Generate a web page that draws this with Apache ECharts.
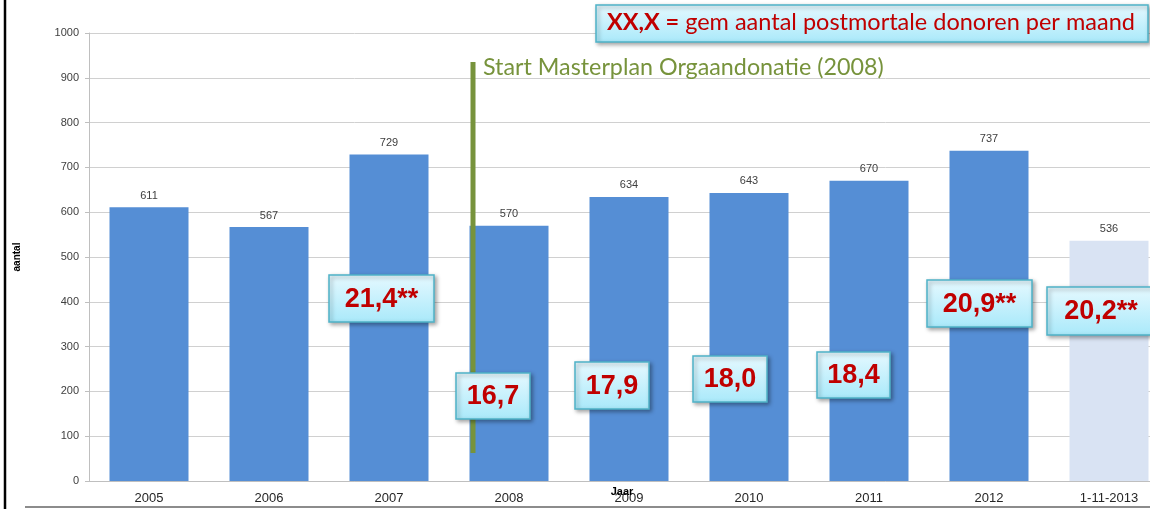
<!DOCTYPE html>
<html>
<head>
<meta charset="utf-8">
<script src="https://cdn.jsdelivr.net/npm/echarts@6/dist/echarts.min.js"></script>
<style>
  html, body { margin: 0; padding: 0; background: #fff; }
  #chart { width: 1150px; height: 509px; }
</style>
</head>
<body>
<div id="chart"></div>
<script>
  // jaren en aantallen
  var categories = ['2005', '2006', '2007', '2008', '2009', '2010', '2011', '2012', '1-11-2013'];
  var donors = [611, 567, 729, 570, 634, 643, 670, 737, 536];
  var yTicks = [0, 100, 200, 300, 400, 500, 600, 700, 800, 900, 1000];
  // gem aantal postmortale donoren per maand (leeg = geen kader)
  var monthAvg = ['', '', '21,4**', '16,7', '17,9', '18,0', '18,4', '20,9**', '20,2**'];

  var boxFill = new echarts.graphic.LinearGradient(0, 0, 0, 1, [
    {offset: 0, color: '#e6f9ff'},
    {offset: 1, color: '#a9e9fa'}
  ]);
  var boxStyle = {
    fill: boxFill, stroke: '#4fb3c8', lineWidth: 1.5,
    shadowBlur: 4, shadowOffsetX: 2, shadowOffsetY: 2, shadowColor: 'rgba(0,0,0,0.35)'
  };

  // kaders bij de balken: [x, y, breedte, hoogte]
  var boxPos = {
    2: [329, 275, 105, 47],
    3: [456, 373, 74, 46],
    4: [575, 362, 74, 47],
    5: [693, 356, 74, 46],
    6: [817, 352, 73, 46],
    7: [927, 280, 105, 47],
    8: [1047, 287, 108, 48]
  };

  var graphics = [];
  // linker rand en onderrand
  graphics.push({type: 'line', shape: {x1: 5, y1: 0, x2: 5, y2: 509}, style: {stroke: '#000', lineWidth: 2.5}, z: 10});
  graphics.push({type: 'line', shape: {x1: 25, y1: 507, x2: 1150, y2: 507}, style: {stroke: '#666', lineWidth: 1.5}, z: 10});
  // start masterplan
  graphics.push({type: 'line', shape: {x1: 473, y1: 62, x2: 473, y2: 453}, style: {stroke: '#77933c', lineWidth: 5}, z: 20});
  graphics.push({type: 'text', x: 483, y: 56, style: {
    text: 'Start Masterplan Orgaandonatie (2008)', fill: '#77933c',
    font: '23.3px Lato'
  }, z: 20});
  // legenda kader
  graphics.push({type: 'rect', shape: {x: 596, y: 5, width: 552, height: 37}, style: boxStyle, z: 30});
  graphics.push({type: 'text', x: 607, y: 10, style: {
    text: '{b|XX,X =} gem aantal postmortale donoren per maand',
    fill: '#c00000', font: '23.5px Lato',
    rich: {b: {fontWeight: 'bold', fontSize: 23.5, fontFamily: 'Lato', fill: '#c00000'}}
  }, z: 31});
  // as-titel jaar
  graphics.push({type: 'text', x: 622, y: 492, style: {
    text: 'Jaar', fill: '#000', font: 'bold 11px "Liberation Sans"',
    align: 'center', verticalAlign: 'middle'
  }, z: 25});

  monthAvg.forEach(function (t, i) {
    if (!t) return;
    var p = boxPos[i];
    graphics.push({type: 'rect', shape: {x: p[0], y: p[1], width: p[2], height: p[3]}, style: boxStyle, z: 30});
    graphics.push({type: 'text', x: p[0] + p[2] / 2, y: p[1] + p[3] / 2 + 1, style: {
      text: t, fill: '#c00000', font: 'bold 27px "Liberation Sans"',
      align: 'center', verticalAlign: 'middle'
    }, z: 31});
  });

  var chart = echarts.init(document.getElementById('chart'));
  chart.setOption({
    animation: false,
    backgroundColor: '#fff',
    grid: {left: 89, top: 33, width: 1080, height: 448, containLabel: false, outerBoundsMode: 'none'},
    xAxis: {
      type: 'category',
      data: categories,
      axisLine: {lineStyle: {color: '#bfbfbf'}},
      axisTick: {length: 5, lineStyle: {color: '#bfbfbf'}},
      axisLabel: {color: '#262626', fontSize: 13, margin: 11, fontFamily: 'Liberation Sans'}
    },
    yAxis: {
      type: 'value',
      min: yTicks[0],
      max: yTicks[yTicks.length - 1],
      interval: 100,
      name: 'aantal',
      nameLocation: 'middle',
      nameRotate: 90,
      nameGap: 67,
      nameTextStyle: {fontWeight: 'bold', fontSize: 10, color: '#000', fontFamily: 'Liberation Sans'},
      axisLine: {show: true, lineStyle: {color: '#bfbfbf'}},
      axisTick: {show: true, length: 4, lineStyle: {color: '#bfbfbf'}},
      axisLabel: {
        color: '#404040', fontSize: 11, margin: 10, fontFamily: 'Liberation Sans',
        formatter: function (v) { return String(v); }
      },
      splitLine: {lineStyle: {color: '#d0d0d0'}}
    },
    series: [{
      type: 'bar',
      barWidth: 79,
      data: donors.map(function (v, i) {
        return {
          value: v,
          itemStyle: {color: i === donors.length - 1 ? '#d9e3f3' : '#558ed5'}
        };
      }),
      label: {
        show: true, position: 'top', distance: 6,
        color: '#404040', fontSize: 11, fontFamily: 'Liberation Sans'
      }
    }],
    graphic: graphics
  });
</script>
</body>
</html>
